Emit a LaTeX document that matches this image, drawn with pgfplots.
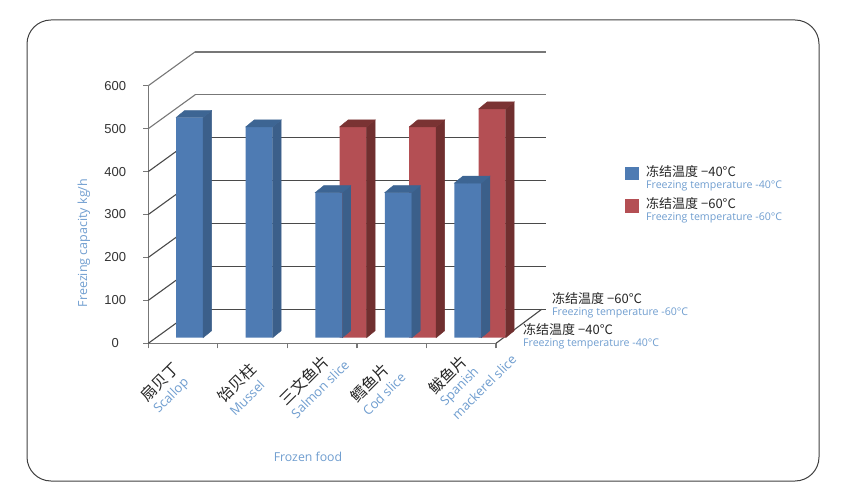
\documentclass[border=0pt]{standalone}
\usepackage{pgfplots}
\usepackage{pgfplotstable}
\usepackage{fontspec}
\pgfplotsset{compat=1.18}
\setmainfont{Liberation Sans}
\newfontfamily\cjk{Noto Sans CJK SC}
\newfontfamily\latin{Open Sans}

\definecolor{bluefront}{HTML}{4E7BB3}
\definecolor{blueside}{HTML}{3B5F8A}
\definecolor{bluetop}{HTML}{3D6593}
\definecolor{redfront}{HTML}{B44F54}
\definecolor{redside}{HTML}{702F2F}
\definecolor{redtop}{HTML}{7A3333}
\definecolor{labelblue}{HTML}{6F9DCF}
\definecolor{axisgray}{HTML}{777777}
\definecolor{gridgray}{HTML}{4A4A4A}

% bar positions are category centres, values in kg/h
\pgfplotstableread{
pos val
0.5 513
1.5 491
2.5 338
3.5 338
4.5 360
}\bluedata
\pgfplotstableread{
pos val
2.5 491
3.5 491
4.5 533
}\reddata

\pgfplotsset{
  gridline/.style={gridgray, line width=1.1pt, forget plot},
  % side and top face of a bar, drawn from its top front centre
  barfaces/.style 2 args={
    forget plot, scatter, only marks, mark=*, mark size=0pt,
    visualization depends on={rawy \as \barv},
    scatter/@pre marker code/.code={
      \pgfmathsetlengthmacro\barh{\barv*0.4293pt}
      \fill[#1] (13.5pt,0pt) -- ++(8.5pt,7pt) -- ++(0pt,-\barh) -- ++(-8.5pt,-7pt) -- cycle;
      \fill[#2] (-13.5pt,0pt) -- ++(8.5pt,7pt) -- ++(27pt,0pt) -- ++(-8.5pt,-7pt) -- cycle;
    },
    scatter/@post marker code/.code={},
  },
  barfront/.style={forget plot, ybar, bar shift=0pt, bar width=27pt, fill=#1, draw=none},
}

\newcommand{\en}[1]{{\latin\color{labelblue}#1}}
\newcommand{\zh}[1]{{\cjk\color{black!85}#1}}

\begin{document}
\begin{tikzpicture}
\path[use as bounding box] (0pt,0pt) rectangle (850pt,498pt);
\draw[black!75, line width=1pt, rounded corners=24pt] (27pt,17pt) rectangle (819pt,478pt);

\begin{axis}[
  at={(148.3pt,154.7pt)}, anchor=south west,
  scale only axis, width=347.7pt, height=257.6pt,
  xmin=0, xmax=5, ymin=0, ymax=600,
  axis x line=bottom, axis y line=left,
  axis line style={-, axisgray, line width=1.5pt},
  xtick={0,1,2,3,4,5}, xticklabels={},
  ytick={0,100,200,300,400,500,600},
  tick style={axisgray, line width=1.2pt},
  tick align=outside, major tick length=5pt,
  /pgf/number format/assume math mode=true,
  yticklabel style={anchor=center, xshift=-28pt, font=\fontsize{13}{15}\selectfont, text=black!80},
  clip=false,
  legend cell align=left,
  legend style={at={(1.371,0.6996)}, anchor=north west, draw=none, fill=none,
    inner sep=0pt, row sep=4pt},
  legend image code/.code={
    \path[draw=none, fill=none] (0pt,0pt) rectangle (19pt,1pt);
    \fill[#1, draw=none] (0pt,-3pt) rectangle (14pt,10.3pt);
  },
]
\addlegendimage{bluefront}
\addlegendentry{\shortstack[l]{\zh{\fontsize{13}{15}\selectfont 冻结温度 −40°C}\\\en{\fontsize{10.6}{12}\selectfont Freezing temperature -40°C}}}
\addlegendimage{redfront}
\addlegendentry{\shortstack[l]{\zh{\fontsize{13}{15}\selectfont 冻结温度 −60°C}\\\en{\fontsize{10.6}{12}\selectfont Freezing temperature -60°C}}}

% back wall
\addplot[gridline, xshift=47pt, yshift=34pt] coordinates {(0,0) (5.05,0)};
\addplot[gridline, xshift=47pt, yshift=34pt] coordinates {(0,100) (5.05,100)};
\addplot[gridline, xshift=47pt, yshift=34pt] coordinates {(0,200) (5.05,200)};
\addplot[gridline, xshift=47pt, yshift=34pt] coordinates {(0,300) (5.05,300)};
\addplot[gridline, xshift=47pt, yshift=34pt] coordinates {(0,400) (5.05,400)};
\addplot[gridline, axisgray, xshift=47pt, yshift=34pt] coordinates {(0,500) (5.05,500)};
\addplot[gridline, axisgray, line width=2pt, xshift=47pt, yshift=34pt] coordinates {(0,600) (5.05,600)};
% side wall and floor
\addplot[gridline] coordinates {(0,0) (0.676,79.2)};
\addplot[gridline] coordinates {(0,100) (0.676,179.2)};
\addplot[gridline] coordinates {(0,200) (0.676,279.2)};
\addplot[gridline] coordinates {(0,300) (0.676,379.2)};
\addplot[gridline] coordinates {(0,400) (0.676,479.2)};
\addplot[gridline, axisgray] coordinates {(0,500) (0.676,579.2)};
\addplot[gridline, axisgray] coordinates {(0,600) (0.676,679.2)};
\addplot[gridline] coordinates {(5,0) (5.657,79.2)};

% red row behind, blue row in front
\addplot[barfaces={redside}{redtop}, xshift=31pt, yshift=5.6pt] table[x=pos, y=val] {\reddata};
\addplot[barfront=redfront, xshift=31pt, yshift=5.6pt] table[x=pos, y=val] {\reddata};
\addplot[barfaces={blueside}{bluetop}, xshift=6.6pt, yshift=5.6pt] table[x=pos, y=val] {\bluedata};
\addplot[barfront=bluefront, xshift=6.6pt, yshift=5.6pt] table[x=pos, y=val] {\bluedata};
\end{axis}

\begin{scope}[x=1pt, y=-1pt, yshift=498pt]
\tikzset{
  zhlab/.style={rotate=45, inner sep=0pt, font=\cjk\fontsize{15.5}{17}\selectfont, text=black!85},
  enlab/.style={rotate=45, inner sep=0pt, font=\latin\fontsize{13}{15}\selectfont, text=labelblue},
  zhleg/.style={anchor=west, inner sep=0pt, font=\cjk\fontsize{13}{15}\selectfont, text=black!85},
  enleg/.style={anchor=west, inner sep=0pt, font=\latin\fontsize{10.6}{12}\selectfont, text=labelblue},
}
\node[zhlab] at (160,382) {扇贝丁};
\node[enlab] at (171.7,396) {Scallop};
\node[zhlab] at (237,383) {饴贝柱};
\node[enlab] at (247,398) {Mussel};
\node[zhlab] at (304,380) {三文鱼片};
\node[enlab] at (320,389) {Salmon slice};
\node[zhlab] at (370,383) {鳕鱼片};
\node[enlab] at (384,394) {Cod slice};
\node[zhlab] at (448,375) {鲅鱼片};
\node[enlab] at (460,387) {Spanish};
\node[enlab] at (484,387) {mackerel slice};

\node[zhleg] at (552,299) {冻结温度 −60°C};
\node[enleg] at (552,312.5) {Freezing temperature -60°C};
\node[zhleg] at (523,330) {冻结温度 −40°C};
\node[enleg] at (523,343.5) {Freezing temperature -40°C};

\node[rotate=90, inner sep=0pt, text=labelblue, font=\latin\fontsize{12.5}{14}\selectfont] at (84,243) {Freezing capacity kg/h};
\node[inner sep=0pt, text=labelblue, font=\latin\fontsize{12.3}{14}\selectfont] at (308,457) {Frozen food};
\end{scope}
\end{tikzpicture}
\end{document}
